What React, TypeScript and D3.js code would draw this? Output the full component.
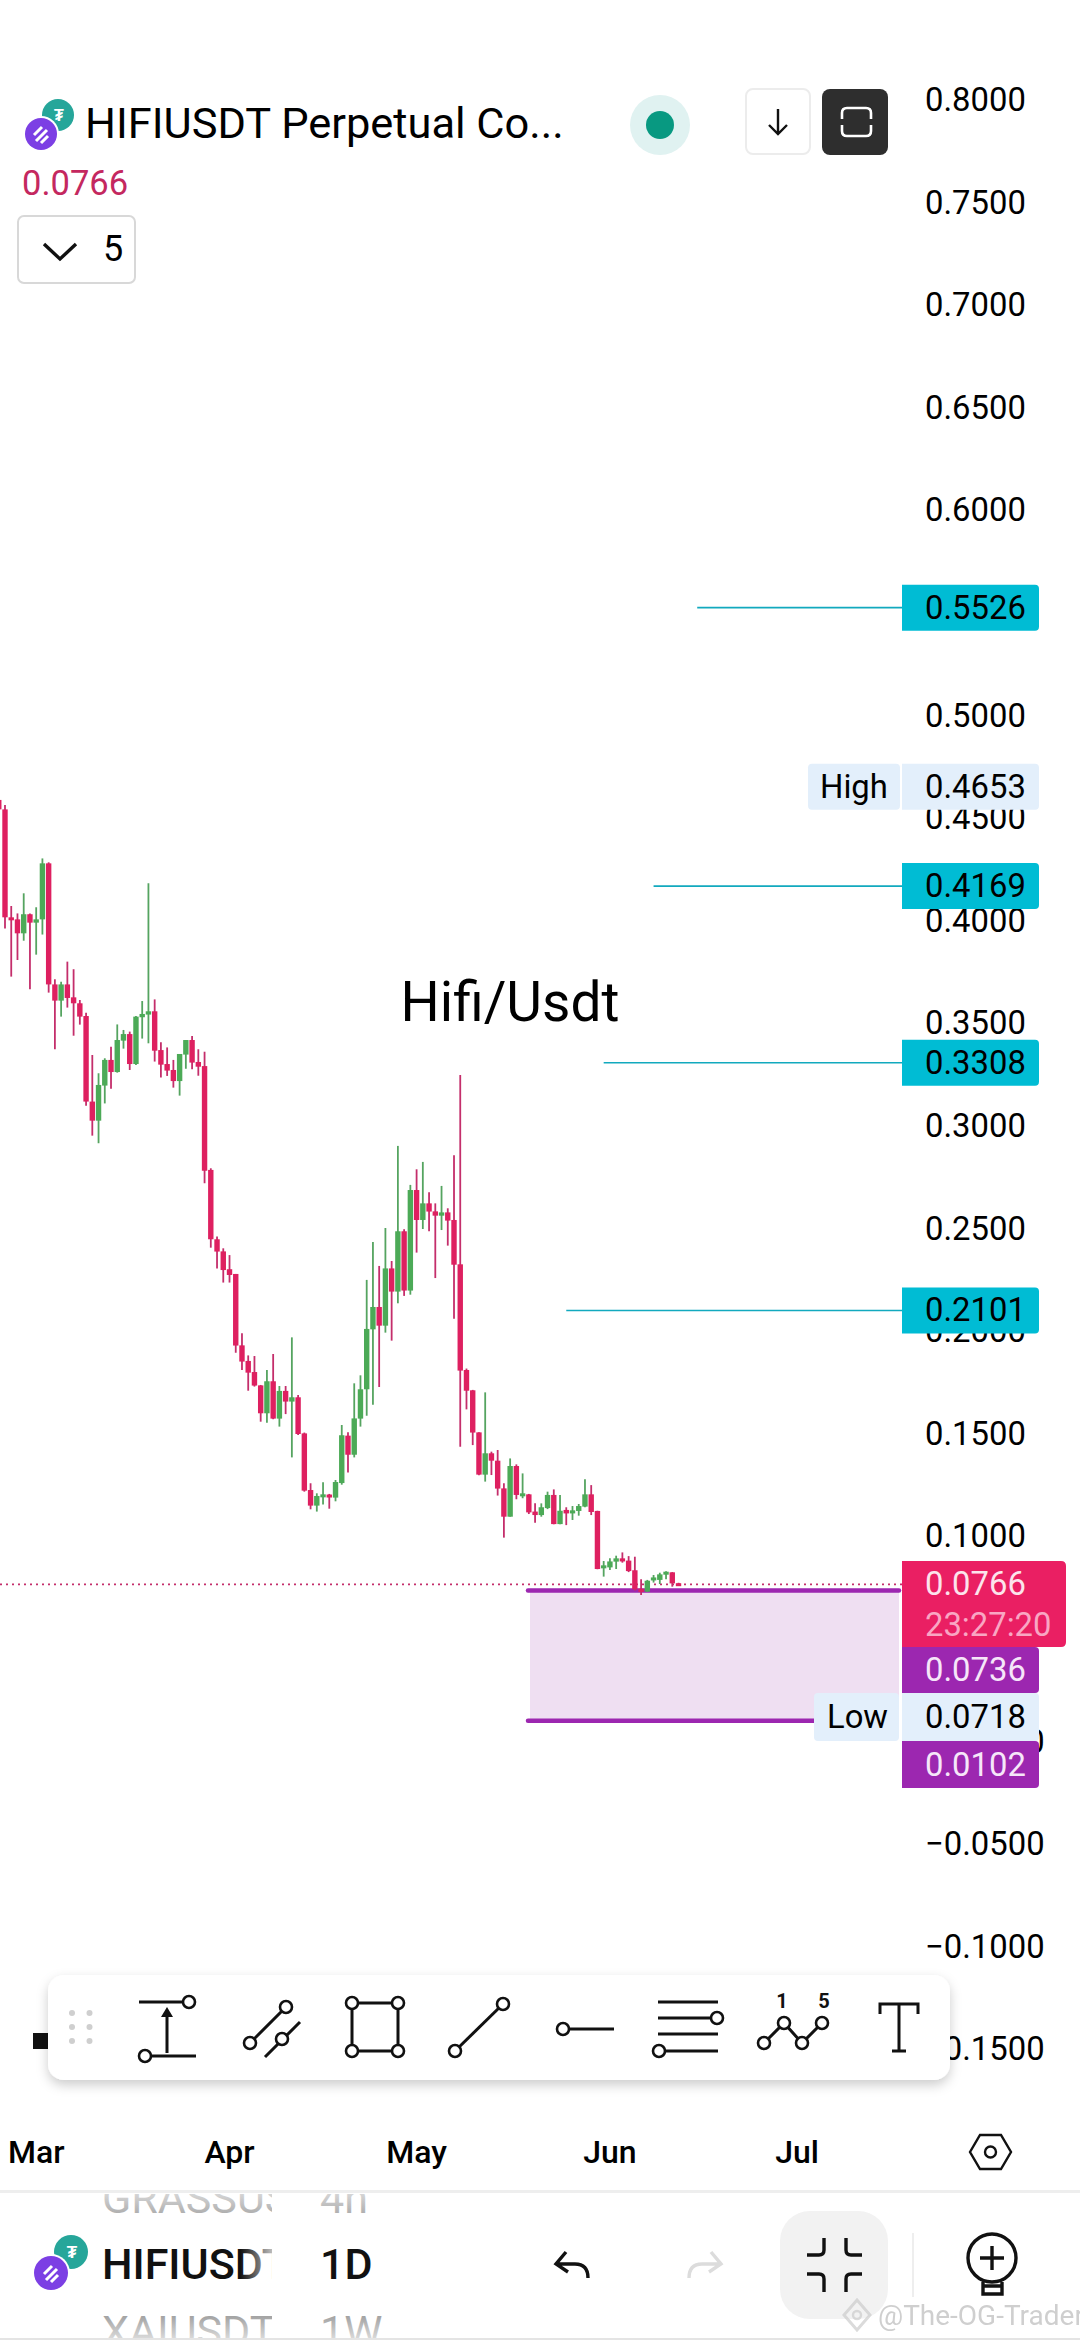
import React from "react";
import * as d3 from "d3";

const firstDay = "2024-02-24";
const highs = [.4589,
 .4564,.4072,.4036,.4134,.4036,.4066,.4304,.4285,.3715,.3703,.3801,.3764,.3614,.3552,.3346,.3257,.3330,.3386,.3495,.3468,.3460,.3536,.3609,.4183,.3617,.3408,
 .3383,.3322,.3351,.3419,.3439,.3374,.3362,.2794,.2461,.2404,.2371,.2279,.1990,.1882,.1879,.1738,.1811,.1889,.1733,.1733,.1970,.1689,.1506,.1259,.1210,.1264,
 .1207,.1275,.1543,.1507,.1746,.1785,.2250,.2435,.2318,.2503,.2342,.2903,.2497,.2713,.2789,.2825,.2677,.2623,.2708,.2599,.2857,.3249,.1818,.1714,.1508,.1702,
 .1413,.1421,.1259,.1380,.1351,.1307,.1207,.1161,.1161,.1218,.1229,.1202,.1142,.1148,.1158,.1278,.1250,.1125,.0880,.0893,.0906,.0922,.0904,.0901,.0791,.0788,
 .0812,.0823,.0830,.0826,.0774];
const opens = [.4589,
 .4543,.4017,.4007,.3939,.4032,.3991,.4007,.4280,.3690,.3611,.3690,.3627,.3598,.3536,.3119,.3026,.3197,.3322,.3263,.3416,.3448,.3302,.3530,.3543,.3559,.3370,
 .3302,.3273,.3219,.3348,.3419,.3312,.3292,.2786,.2448,.2389,.2302,.2279,.1931,.1855,.1801,.1736,.1600,.1756,.1574,.1709,.1657,.1678,.1502,.1226,.1150,.1200,
 .1204,.1189,.1260,.1491,.1398,.1574,.1717,.2009,.2118,.2027,.2306,.2193,.2487,.2198,.2688,.2542,.2623,.2584,.2563,.2579,.2542,.2326,.1811,.1712,.1507,.1301,
 .1405,.1369,.1234,.1096,.1343,.1203,.1205,.1121,.1104,.1138,.1202,.1060,.1129,.1112,.1124,.1145,.1205,.1124,.0852,.0849,.0877,.0893,.0882,.0835,.0745,.0731,
 .0791,.0788,.0823,.0825,.0772];
const closes = [.4543,
 .4017,.4007,.3939,.4032,.3991,.4007,.4280,.3690,.3611,.3690,.3624,.3598,.3533,.3119,.3026,.3200,.3322,.3263,.3419,.3448,.3302,.3533,.3546,.3559,.3367,.3299,
 .3270,.3219,.3351,.3419,.3309,.3289,.2782,.2448,.2388,.2298,.2274,.1930,.1852,.1798,.1735,.1600,.1756,.1574,.1709,.1657,.1678,.1499,.1223,.1150,.1197,.1205,
 .1190,.1265,.1493,.1398,.1575,.1717,.2011,.2118,.2027,.2306,.2193,.2487,.2198,.2688,.2542,.2623,.2583,.2563,.2579,.2539,.2324,.1808,.1710,.1506,.1301,.1405,
 .1369,.1233,.1096,.1343,.1202,.1210,.1117,.1104,.1142,.1202,.1060,.1125,.1112,.1127,.1148,.1205,.1119,.0841,.0859,.0878,.0893,.0878,.0831,.0742,.0729,.0784,
 .0800,.0815,.0828,.0771,.0766];
const lows = [.4500,
 .3963,.3728,.3809,.3903,.3666,.3835,.3933,.3650,.3374,.3533,.3577,.3440,.3494,.3099,.2953,.2916,.3110,.3182,.3260,.3377,.3273,.3297,.3426,.3403,.3314,.3236,
 .3244,.3187,.3148,.3279,.3276,.3245,.2721,.2407,.2305,.2237,.2237,.1895,.1811,.1710,.1730,.1559,.1554,.1571,.1535,.1596,.1385,.1494,.1218,.1132,.1121,.1155,
 .1135,.1171,.1252,.1311,.1385,.1535,.1588,.1642,.1728,.1993,.1954,.2136,.2172,.2178,.2383,.2498,.2487,.2259,.2493,.2417,.2061,.1437,.1619,.1445,.1298,.1267,
 .1299,.1199,.0994,.1096,.1181,.1186,.1109,.1067,.1096,.1133,.1059,.1059,.1055,.1080,.1101,.1142,.1104,.0840,.0804,.0836,.0841,.0872,.0826,.0736,.0714,.0729,
 .0775,.0768,.0791,.0755,.0760];

const priceTicks = ["0.8000","0.7500","0.7000","0.6500","0.6000","0.5500","0.5000","0.4500","0.4000","0.3500","0.3000","0.2500","0.2000","0.1500","0.1000","0.0500","−0.0000","−0.0500","−0.1000","−0.1500"];
const lineLevels = [0.5526, 0.4169, 0.3308, 0.2101];
const lineStarts = ["2024-06-15", "2024-06-08", "2024-05-31", "2024-05-25"].map(s => new Date(s + "T00:00:00Z"));
const lastPrice = 0.0766;
const zoneTop = 0.0736;
const zoneBottom = 0.0102;
const highPrice = 0.4653;

const RED = "#DE2060", GREEN = "#4CAA57", REDW = "#C42E6B", GREENW = "#55A460", TEAL = "#00BCD4", LINE = "#12A9BE", PURPLE = "#9C27B0", INK = "#000";
const FONT = "Roboto, sans-serif";
const TICK = 32.8;

const y = d3.scaleLinear().domain([0.8, -0.15]).range([100, 2049.4]);
const x = d3.scaleUtc()
  .domain([new Date("2024-02-25T00:00:00Z"), new Date("2024-07-01T00:00:00Z")])
  .range([5, 797]);
const start = new Date(firstDay + "T00:00:00Z");
const months = d3.utcMonth.range(new Date("2024-03-01T00:00:00Z"), new Date("2024-07-02T00:00:00Z"));
const fmtMonth = d3.utcFormat("%b");
const fmt4 = d3.format(".4f");

function Tag({ yc, h, x1 = 902, x2 = 1039, fill, color = INK, label }: any) {
  return <g>
    <path d={`M${x1} ${yc - h / 2}H${x2 - 4}q4 0 4 4V${yc + h / 2 - 4}q0 4 -4 4H${x1}Z`} fill={fill} />
    <text x={925} y={yc} dominantBaseline="central" fontSize={TICK} fill={color}>{label}</text>
  </g>;
}

function Logo({ tx, ty, px, py, r }: any) {
  return <g>
    <circle cx={tx} cy={ty} r={r} fill="#26A69A" />
    <text x={tx + 1} y={ty + 6} fontSize={r} fontWeight={700} fill="#fff" textAnchor="middle">₮</text>
    <circle cx={px} cy={py} r={r + 2} fill="#fff" />
    <circle cx={px} cy={py} r={r} fill="#7C3FE4" />
    <path d={`M${px - 7} ${py + 1}l8 -8M${px - 5} ${py + 7}l11 -11M${px} ${py + 9}l7 -7`} stroke="#fff" strokeWidth={3} fill="none" />
  </g>;
}

function Dot({ cx, cy }: any) {
  return <circle cx={cx} cy={cy} r={6} fill="#fff" stroke="#111" strokeWidth={2.6} />;
}

function Toolbar() {
  const s = { stroke: "#111", strokeWidth: 3, fill: "none" } as const;
  return <g>
    <rect x={48} y={1975} width={902} height={105} rx={16} fill="#fff" filter="url(#sh)" />
    {[72, 89.5].map(a => [2013, 2027, 2041].map(b => <circle key={a + "-" + b} cx={a} cy={b} r={3} fill="#cfcfcf" />))}
    <path d="M139 2002H184M152 2056H196M167 2053V2014" {...s} />
    <path d="M167 2007l-6 10h12z" fill="#111" />
    <Dot cx={189} cy={2002} /><Dot cx={145} cy={2056} />
    <path d="M250 2043L286 2007M265 2057L300 2022" {...s} />
    <Dot cx={250} cy={2043} /><Dot cx={286} cy={2007} /><Dot cx={282} cy={2039} />
    <path d="M352 2003H398V2051H352Z" {...s} />
    <Dot cx={352} cy={2003} /><Dot cx={398} cy={2003} /><Dot cx={352} cy={2051} /><Dot cx={398} cy={2051} />
    <path d="M455 2051L503 2004" {...s} />
    <Dot cx={455} cy={2051} /><Dot cx={503} cy={2004} />
    <path d="M563 2029H614" {...s} />
    <Dot cx={563} cy={2029} />
    <path d="M658 2002H718M658 2018H714M658 2034H718M662 2051H718" {...s} />
    <Dot cx={717} cy={2018} /><Dot cx={659} cy={2051} />
    <path d="M764 2043L784 2023L802 2043L822 2023" {...s} />
    <Dot cx={764} cy={2043} /><Dot cx={784} cy={2023} /><Dot cx={802} cy={2043} /><Dot cx={822} cy={2023} />
    <text x={782} y={2008} fontSize={20} fontWeight={700} textAnchor="middle" fill="#111">1</text>
    <text x={824} y={2008} fontSize={20} fontWeight={700} textAnchor="middle" fill="#111">5</text>
    <path d="M880 2014V2004H918V2014M899 2004V2051M892 2051H906" {...s} />
  </g>;
}

export default function App() {
  const yLast = y(lastPrice), yZT = y(zoneTop), yZB = y(zoneBottom);
  const candles = highs.map((h, i) => ({
    date: d3.utcDay.offset(start, i), h, l: lows[i], o: opens[i], c: closes[i],
  }));
  return (
    <svg width={1080} height={2340} viewBox="0 0 1080 2340"
      style={{ position: "fixed", left: 0, top: 0, background: "#fff" }} fontFamily={FONT}>
      <defs>
        <filter id="sh" x="-5%" y="-20%" width="110%" height="150%">
          <feDropShadow dx={0} dy={5} stdDeviation={6} floodColor="#000" floodOpacity={0.2} />
        </filter>
        <linearGradient id="fade" x1="102" x2="275" y1="0" y2="0" gradientUnits="userSpaceOnUse">
          <stop offset="0.8" stopColor="#111" /><stop offset="1" stopColor="#ccc" />
        </linearGradient>
        <linearGradient id="fadeUp" x1="0" x2="0" y1="2190" y2="2216" gradientUnits="userSpaceOnUse">
          <stop offset="0" stopColor="#ddd" /><stop offset="1" stopColor="#aaa" />
        </linearGradient>
        <linearGradient id="fadeDn" x1="0" x2="0" y1="2312" y2="2340" gradientUnits="userSpaceOnUse">
          <stop offset="0" stopColor="#999" /><stop offset="1" stopColor="#ddd" />
        </linearGradient>
        <clipPath id="list"><rect x={90} y={2194} width={300} height={144} /></clipPath>
        <clipPath id="sym"><rect x={90} y={2194} width={182} height={144} /></clipPath>
      </defs>

      {priceTicks.map(t => {
        const v = parseFloat(t.replace("−", "-"));
        return <text key={t} x={925} y={y(v)} dominantBaseline="central" fontSize={TICK} fill={INK}>{t}</text>;
      })}

      {lineLevels.map((v, i) => (
        <line key={v} x1={x(lineStarts[i])} x2={902} y1={y(v)} y2={y(v)} stroke={LINE} strokeWidth={1.6} />
      ))}

      <text x={510} y={1002} textAnchor="middle" dominantBaseline="central" fontSize={55} fill={INK}>Hifi/Usdt</text>

      <line x1={0} x2={902} y1={yLast} y2={yLast} stroke={REDW} strokeWidth={1.6} strokeDasharray="2 4" />

      <rect x={530} y={yZT} width={369} height={yZB - yZT} fill="#EFDFF2" />
      <line x1={528} x2={899} y1={yZT} y2={yZT} stroke={PURPLE} strokeWidth={4.5} strokeLinecap="round" />
      <line x1={528} x2={816} y1={yZB} y2={yZB} stroke={PURPLE} strokeWidth={4.5} strokeLinecap="round" />

      {candles.map((d, i) => {
        const up = d.c > d.o;
        const cx = x(d.date);
        const top = y(Math.max(d.o, d.c)), bot = y(Math.min(d.o, d.c));
        return <g key={i}>
          <line x1={cx} x2={cx} y1={y(d.h)} y2={y(d.l)} stroke={up ? GREENW : REDW} strokeWidth={1.8} />
          <rect x={cx - 2.7} y={top} width={5.4} height={Math.max(bot - top, 3)} fill={up ? GREEN : RED} />
        </g>;
      })}

      {lineLevels.map(v => <Tag key={v} yc={y(v)} h={46} fill={TEAL} label={fmt4(v)} />)}

      <rect x={808} y={y(highPrice) - 23} width={92} height={46} rx={4} fill="#E3EFFB" />
      <text x={820} y={y(highPrice)} dominantBaseline="central" fontSize={TICK} fill={INK}>High</text>
      <Tag yc={y(highPrice)} h={46} fill="#E3EFFB" label={fmt4(highPrice)} />

      <Tag yc={1670} h={46} fill={PURPLE} color="#F6E6F9" label={fmt4(zoneTop)} />
      <Tag yc={1764.5} h={47} fill={PURPLE} color="#F6E6F9" label={fmt4(zoneBottom)} />
      <rect x={814} y={1693} width={85} height={48} rx={4} fill="#E3EFFB" />
      <text x={827} y={1717} dominantBaseline="central" fontSize={TICK} fill={INK}>Low</text>
      <Tag yc={1717} h={48} fill="#E3EFFB" label="0.0718" />
      <path d="M902 1561H1061q5 0 5 5V1642q0 5 -5 5H902Z" fill="#EA1F63" />
      <text x={925} y={yLast} dominantBaseline="central" fontSize={TICK} fill="#FCE4EC">{fmt4(lastPrice)}</text>
      <text x={925} y={1625} dominantBaseline="central" fontSize={TICK} fill="#F9A6C3">23:27:20</text>

      <Logo tx={58} ty={115} px={41} py={134} r={16} />
      <text x={85} y={138} fontSize={43.4} fill={INK}>HIFIUSDT Perpetual Co...</text>
      <text x={22} y={195} fontSize={34.5} fill="#C4285F">{fmt4(lastPrice)}</text>

      <rect x={18} y={216} width={117} height={67} rx={6} fill="#fff" stroke="#d8d8d8" strokeWidth={2} />
      <path d="M44 244L60 259L76 244" fill="none" stroke="#111" strokeWidth={3.4} />
      <text x={103} y={261} fontSize={36} fill={INK}>5</text>

      <circle cx={660} cy={125} r={30} fill="#E0F2F1" />
      <circle cx={660} cy={125} r={14} fill="#089981" />

      <rect x={746} y={89} width={64} height={65} rx={7} fill="#fff" stroke="#ececec" strokeWidth={2} />
      <path d="M778 109V134M769 125L778 134L787 125" fill="none" stroke="#111" strokeWidth={2.4} />
      <rect x={822} y={89} width={66} height={66} rx={8} fill="#2E2E2E" />
      <path d="M842 119V113q0 -5 5 -5H866q5 0 5 5V119M842 125V131q0 5 5 5H866q5 0 5 -5V125" fill="none" stroke="#fff" strokeWidth={2.6} />

      <rect x={33} y={2033} width={15} height={16} fill="#111" />

      <Toolbar />

      {months.map(m => (
        <text key={+m} x={x(m)} y={2163} textAnchor="middle" fontSize={32} fontWeight={500} fill={INK}>{fmtMonth(m)}</text>
      ))}
      <path d="M970 2152L980 2135H1001L1011 2152L1001 2169H980Z" fill="none" stroke="#111" strokeWidth={2.4} />
      <circle cx={990.5} cy={2152} r={5.5} fill="none" stroke="#111" strokeWidth={2.4} />

      <rect x={0} y={2190} width={1080} height={3} fill="#eeeeee" />
      <g clipPath="url(#sym)" fontSize={43}>
        <text x={102} y={2213} fill="url(#fadeUp)">GRASSUSDT</text>
        <text x={102} y={2279} fontWeight={500} fill="url(#fade)">HIFIUSDT</text>
        <text x={102} y={2346} fill="url(#fadeDn)">XAIUSDT</text>
      </g>
      <g clipPath="url(#list)" fontSize={43}>
        <text x={320} y={2213} fill="url(#fadeUp)">4h</text>
        <text x={320} y={2279} fontWeight={500} fill="#111">1D</text>
        <text x={320} y={2346} fill="url(#fadeDn)">1W</text>
      </g>
      <Logo tx={71} ty={2252} px={51} py={2273} r={17} />

      <line x1={0} x2={1080} y1={2339} y2={2339} stroke="#e4e4e4" strokeWidth={2} />

      <path d="M563 2252L553 2264L565 2272M554 2264H572q13 0 13 14" fill="none" stroke="#111" strokeWidth={3.4} transform="translate(3 0)" />
      <path d="M695 2252L705 2264L693 2272M704 2264H686q-13 0 -13 14" fill="none" stroke="#dcdcdc" strokeWidth={3.4} transform="translate(16 0)" />
      <rect x={780} y={2211} width={108} height={108} rx={30} fill="#F2F2F2" />
      <path d="M824 2238V2250q0 5 -5 5H807M846 2238V2250q0 5 5 5H862M807 2274H819q5 0 5 5V2292M862 2274H851q-5 0 -5 5V2292" fill="none" stroke="#111" strokeWidth={3.4} />
      <line x1={913} x2={913} y1={2233} y2={2297} stroke="#eeeeee" strokeWidth={2} />
      <circle cx={992} cy={2258} r={24} fill="none" stroke="#111" strokeWidth={3.4} />
      <path d="M992 2246V2270M980 2258H1004" stroke="#111" strokeWidth={3.4} />
      <path d="M983 2282V2294H1002V2282M983 2286H1002" fill="none" stroke="#111" strokeWidth={3.4} />

      <g opacity={0.75}>
        <path d="M857 2300L870 2315L857 2330L844 2315Z" fill="none" stroke="#cfcfcf" strokeWidth={3} />
        <circle cx={857} cy={2315} r={4} fill="none" stroke="#cfcfcf" strokeWidth={2.5} />
        <text x={878} y={2325} fontSize={28} fill="#bfbfbf">@The-OG-Trader</text>
      </g>
    </svg>
  );
}
